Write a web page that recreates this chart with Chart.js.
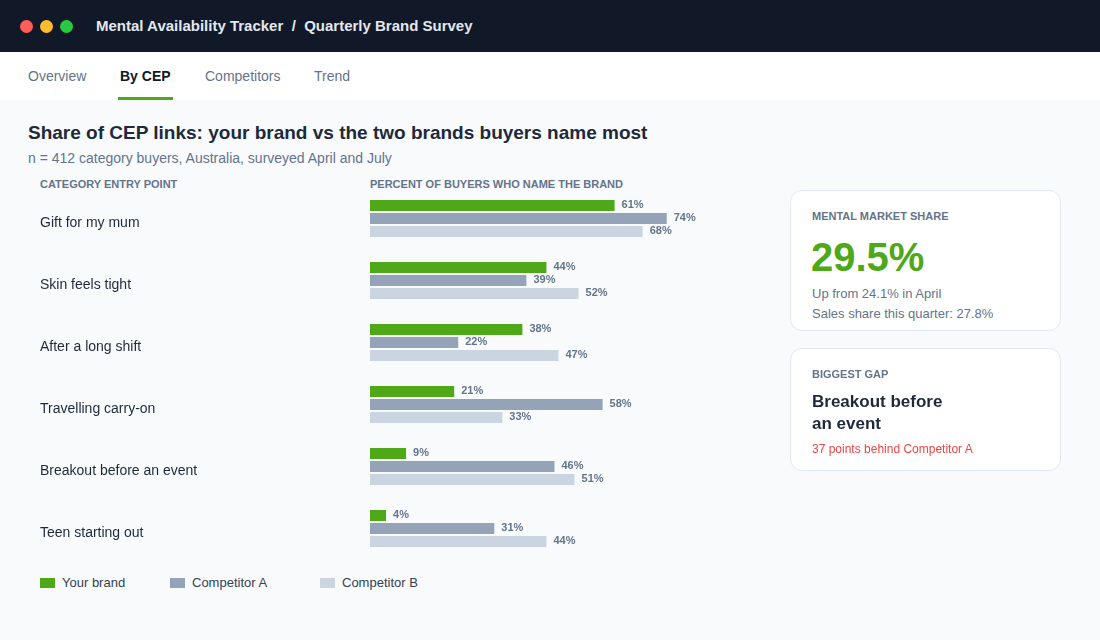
<!DOCTYPE html>
<html lang="en">
<head>
  <meta charset="UTF-8">
  <title>Mental Availability Tracker</title>
  <script src="https://cdn.jsdelivr.net/npm/chart.js"></script>
  <style>
    * { margin: 0; padding: 0; box-sizing: border-box; }
    body {
      width: 1100px; height: 640px; overflow: hidden;
      background: #f8fafc;
      font-family: "Liberation Sans", Arial, sans-serif;
      position: relative;
    }
    .topbar { position: absolute; left: 0; top: 0; width: 1100px; height: 52px; background: #111827; }
    .dot { position: absolute; top: 20px; width: 13px; height: 13px; border-radius: 50%; }
    .topbar h1 { position: absolute; left: 96px; top: 0; line-height: 52px; font-size: 15px; font-weight: bold; color: #e2e8f0; }
    .tabs { position: absolute; left: 0; top: 52px; width: 1100px; height: 48px; background: #fff; }
    .tab { position: absolute; top: 0; line-height: 48px; font-size: 14px; color: #64748b; padding: 0 2px; }
    .tab.active { color: #111827; font-weight: bold; }
    .tab.active::after { content: ""; position: absolute; left: 0; right: 0; bottom: 0; height: 3px; background: #4fa818; }
    .title { position: absolute; left: 28px; top: 121px; line-height: 24px; font-size: 19px; font-weight: bold; color: #1e293b; }
    .sub { position: absolute; left: 28px; top: 149px; line-height: 18px; font-size: 14px; color: #64748b; }
    .colhead { position: absolute; top: 177px; line-height: 14px; font-size: 11px; font-weight: bold; color: #64748b; }
    #chartBox { position: absolute; left: 40px; top: 178px; width: 760px; height: 391px; }
    .legend { position: absolute; left: 40px; top: 574px; height: 18px; }
    .legend span { position: absolute; top: 0; white-space: nowrap; font-size: 13px; color: #334155; line-height: 18px; }
    .legend i { display: inline-block; width: 15px; height: 10px; margin-right: 7px; vertical-align: -1px; }
    .card { position: absolute; left: 790px; width: 271px; background: #fff; border: 1px solid #e2e8f0; border-radius: 12px; }
    .card .lab { position: absolute; left: 21px; font-size: 11px; font-weight: bold; color: #64748b; line-height: 14px; }
    .big { position: absolute; left: 20px; top: 42px; font-size: 40px; font-weight: bold; color: #4fa818; line-height: 48px; }
    .note { position: absolute; left: 21px; font-size: 13px; color: #64748b; line-height: 18px; }
    .gap { position: absolute; left: 21px; top: 42px; font-size: 17px; font-weight: bold; color: #1e293b; line-height: 22px; }
    .red { position: absolute; left: 21px; top: 92px; font-size: 12px; color: #ef4444; line-height: 16px; }
  </style>
</head>
<body>
  <div class="topbar">
    <div class="dot" style="left:20px;background:#ff5f57"></div>
    <div class="dot" style="left:40px;background:#febc2e"></div>
    <div class="dot" style="left:60px;background:#28c840"></div>
    <h1>Mental Availability Tracker&nbsp; /&nbsp; Quarterly Brand Survey</h1>
  </div>
  <div class="tabs">
    <div class="tab" style="left:26px">Overview</div>
    <div class="tab active" style="left:118px">By CEP</div>
    <div class="tab" style="left:203px">Competitors</div>
    <div class="tab" style="left:312px">Trend</div>
  </div>

  <div class="title">Share of CEP links: your brand vs the two brands buyers name most</div>
  <div class="sub">n = 412 category buyers, Australia, surveyed April and July</div>
  <div class="colhead" style="left:40px">CATEGORY ENTRY POINT</div>
  <div class="colhead" style="left:370px">PERCENT OF BUYERS WHO NAME THE BRAND</div>

  <div id="chartBox"><canvas id="cepChart"></canvas></div>

  <div class="legend" id="legend"></div>

  <div class="card" style="top:190px;height:141px">
    <div class="lab" style="top:18px">MENTAL MARKET SHARE</div>
    <div class="big">29.5%</div>
    <div class="note" style="top:94px">Up from 24.1% in April</div>
    <div class="note" style="top:114px">Sales share this quarter: 27.8%</div>
  </div>
  <div class="card" style="top:348px;height:123px">
    <div class="lab" style="top:18px">BIGGEST GAP</div>
    <div class="gap">Breakout before<br>an event</div>
    <div class="red">37 points behind Competitor A</div>
  </div>

  <script>
    const cepLabels = ['Gift for my mum', 'Skin feels tight', 'After a long shift', 'Travelling carry-on', 'Breakout before an event', 'Teen starting out'];
    const yourBrand = [61, 44, 38, 21, 9, 4];
    const competitorA = [74, 39, 22, 58, 46, 31];
    const competitorB = [68, 52, 47, 33, 51, 44];
    const seriesNames = ['Your brand', 'Competitor A', 'Competitor B'];
    const seriesColors = ['#4fa818', '#94a3b8', '#cbd5e1'];

    // percent labels at the end of every bar
    const valueLabels = {
      id: 'valueLabels',
      afterDatasetsDraw(chart) {
        const ctx = chart.ctx;
        ctx.save();
        ctx.font = 'bold 11px "Liberation Sans", Arial, sans-serif';
        ctx.fillStyle = '#64748b';
        ctx.textBaseline = 'middle';
        ctx.textAlign = 'left';
        chart.data.datasets.forEach((ds, i) => {
          chart.getDatasetMeta(i).data.forEach((bar, j) => {
            ctx.fillText(ds.data[j] + '%', bar.x + 7, bar.y - 0.5);
          });
        });
        ctx.restore();
      }
    };

    new Chart(document.getElementById('cepChart'), {
      type: 'bar',
      data: {
        labels: cepLabels,
        datasets: [yourBrand, competitorA, competitorB].map((d, i) => ({
          label: seriesNames[i],
          data: d,
          backgroundColor: seriesColors[i],
          categoryPercentage: 39 / 62,
          barPercentage: 11 / 13
        }))
      },
      options: {
        indexAxis: 'y',
        responsive: true,
        maintainAspectRatio: false,
        animation: false,
        layout: { padding: { top: 9.5, bottom: 9.5, left: 0, right: 29 } },
        plugins: { legend: { display: false }, tooltip: { enabled: false } },
        scales: {
          x: { min: 0, max: 100, display: false },
          y: {
            grid: { display: false, drawTicks: false },
            border: { display: false },
            afterFit(axis) { axis.width = 330; },
            ticks: {
              crossAlign: 'far',
              padding: 0,
              labelOffset: 4.5,
              color: '#1e293b',
              font: { size: 14, family: '"Liberation Sans", Arial, sans-serif' }
            }
          }
        }
      },
      plugins: [valueLabels]
    });

    const legendLeft = [0, 130, 280];
    document.getElementById('legend').innerHTML = seriesNames.map((n, i) =>
      `<span style="left:${legendLeft[i]}px"><i style="background:${seriesColors[i]}"></i>${n}</span>`
    ).join('');
  </script>
</body>
</html>
